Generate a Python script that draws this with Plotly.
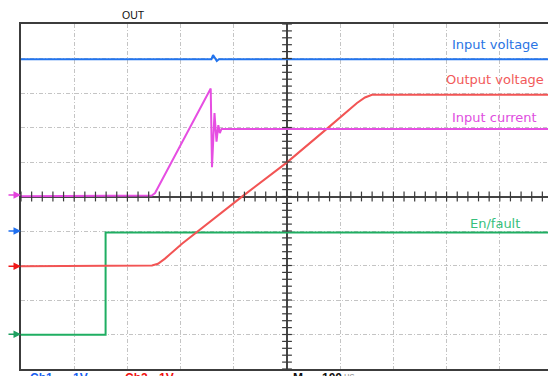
import numpy as np
import plotly.graph_objects as go

# Scope capture: 100 us/div horizontally, vertical values in screen divisions.
blue_t = [-500, -142, -139, -136, -132, -128, 490.6]
blue_v = [3.98, 3.98, 4.10, 4.03, 3.93, 3.98, 3.98]

pink_t = [-500, -261, -254, -248, -143.4, -141.0, -136.3, -132.5, -129.1, -126.3, -123.1, 490.6]
pink_v = [0.01, 0.01, 0.03, 0.10, 3.13, 0.85, 2.42, 1.59, 2.07, 1.84, 1.96, 1.96]

red_t = [-500, -266.9, -253.8, -242.5, -229.3, -212.4, -197.4, -85.2, 0, 80.8, 131.6, 146.6, 159.8, 490.6]
red_v = [-2.02, -2.02, -2.00, -1.95, -1.80, -1.57, -1.37, -0.01, 0.99, 2.04, 2.71, 2.87, 2.95, 2.95]

green_t = [-500, -341, -341, 490.6]
green_v = [-4.01, -4.01, -1.04, -1.04]

# channel ground markers (divisions) on the left edge
ground_levels = [0.04, -1.0, -2.02, -3.99]
ground_colors = ["#e444dc", "#1f6fef", "#f01818", "#1ea060"]

trace_names = ["Input voltage", "Output voltage", "Input current", "En/fault"]
label_colors = ["#2a74e4", "#f25a5a", "#e04ee0", "#36bf7c"]
label_levels = [4.42, 3.38, 2.28, -0.77]

C_BLUE, C_RED, C_PINK, C_GREEN = "#2274ee", "#f25454", "#e64ee2", "#1fae62"

fig = go.Figure()

fig.add_trace(go.Scatter(x=blue_t, y=blue_v, mode="lines",
                         line=dict(color=C_BLUE, width=2)))
fig.add_trace(go.Scatter(x=green_t, y=green_v, mode="lines",
                         line=dict(color=C_GREEN, width=2)))
fig.add_trace(go.Scatter(x=red_t, y=red_v, mode="lines",
                         line=dict(color=C_RED, width=2)))
fig.add_trace(go.Scatter(x=pink_t, y=pink_v, mode="lines",
                         line=dict(color=C_PINK, width=2)))

# minor ticks on the centre cross-hair
tx = np.arange(-500, 491, 20)
ty = np.round(np.arange(-5, 5.01, 0.2), 2)
fig.add_trace(go.Scatter(x=tx, y=np.zeros_like(tx, dtype=float), mode="markers",
                         marker=dict(symbol="line-ns", size=7,
                                     line=dict(color="#3a3a3a", width=1.2)),
                         cliponaxis=False))
fig.add_trace(go.Scatter(x=np.zeros_like(ty), y=ty, mode="markers",
                         marker=dict(symbol="line-ew", size=7,
                                     line=dict(color="#3a3a3a", width=1.2)),
                         cliponaxis=False))

annotations = []
for name, col, lvl in zip(trace_names, label_colors, label_levels):
    annotations.append(dict(x=0.8994, y=lvl, xref="paper", yref="y", text=name,
                            showarrow=False, xanchor="center", yanchor="middle",
                            font=dict(family="DejaVu Sans", size=13, color=col)))

for lvl, col in zip(ground_levels, ground_colors):
    annotations.append(dict(x=0, y=lvl, xref="paper", yref="y", text="",
                            showarrow=True, ax=-14, ay=0, arrowhead=2,
                            arrowsize=1, arrowwidth=1.5, arrowcolor=col,
                            standoff=0))

annotations.append(dict(x=-288, y=5.0, xref="x", yref="y", text="OUT",
                        showarrow=False, yanchor="bottom", yshift=1,
                        font=dict(family="Liberation Sans", size=10.5, color="#111")))

footer = [("Ch1", -487, "#1a5ff0"), ("1V", -406, "#1a5ff0"),
          ("Ch2", -308, "#f01010"), ("1V", -244, "#f01010"),
          ("M", 7, "#111111"), ("100", 62, "#111111")]
for txt, xpos, col in footer:
    annotations.append(dict(x=xpos, y=0, xref="x", yref="paper", text="<b>%s</b>" % txt,
                            showarrow=False, xanchor="left", yanchor="top", yshift=0,
                            font=dict(family="Liberation Sans", size=12, color=col)))
annotations.append(dict(x=104, y=0, xref="x", yref="paper", text="us",
                        showarrow=False, xanchor="left", yanchor="top",
                        font=dict(family="Liberation Sans", size=10, color="#999")))

grid = dict(showgrid=True, gridcolor="#c4c4c4", gridwidth=1, griddash="4px,2px,1px,2px",
            zeroline=True, zerolinecolor="#444", zerolinewidth=1.6,
            showticklabels=False, ticks="", fixedrange=True)

fig.update_layout(
    width=548, height=376,
    margin=dict(l=21, r=0, t=24, b=7),
    paper_bgcolor="white", plot_bgcolor="white",
    showlegend=False,
    xaxis=dict(range=[-500, 490.6], dtick=100, tick0=0,
               showline=True, linecolor="#3c3c3c", linewidth=2, mirror=True, **grid),
    yaxis=dict(range=[-5, 5], dtick=1, tick0=0,
               showline=True, linecolor="#3c3c3c", linewidth=2, mirror=False, **grid),
    annotations=annotations,
)

fig.write_html("out.html", config={"displayModeBar": False})
